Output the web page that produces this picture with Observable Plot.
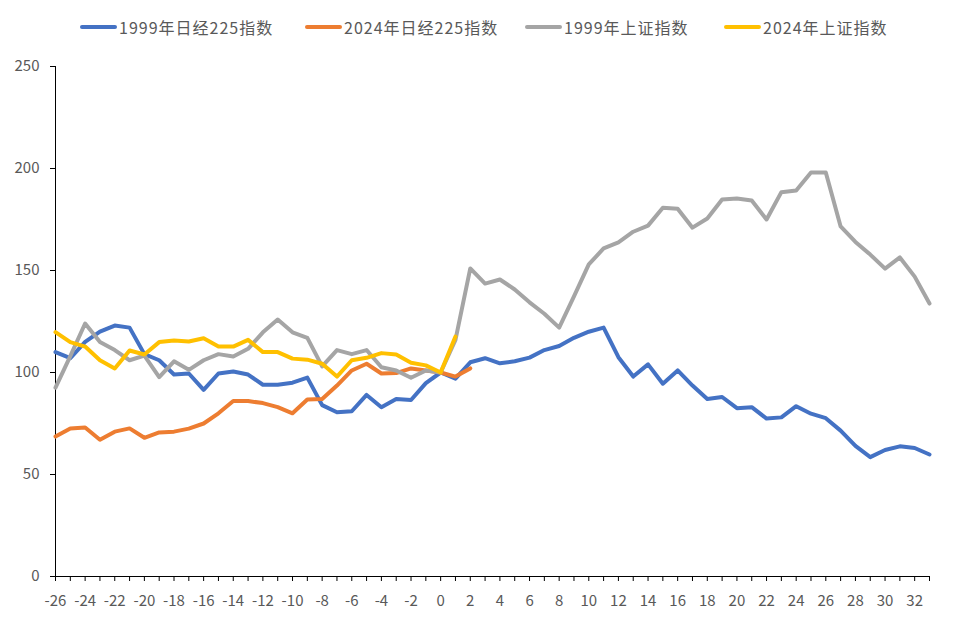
<!DOCTYPE html>
<html><head><meta charset="utf-8">
<script src="https://cdn.jsdelivr.net/npm/d3@7"></script>
<script src="https://cdn.jsdelivr.net/npm/@observablehq/plot@0.6"></script>
<style>
body{margin:0;background:#fff;font-family:"Noto Sans CJK SC","Noto Sans",sans-serif}
#wrap{position:relative;width:960px;height:621px}
#legend{position:relative;height:50px;width:960px}
.item{position:absolute;top:17px;height:20px;line-height:20px;display:flex;align-items:center;font-size:16px;color:#595959;white-space:nowrap}
.item .t{letter-spacing:1px}
.sw{width:37px;height:4px;border-radius:2px;margin-right:2px}
</style>
</head><body>
<div id="wrap"><div id="legend"></div><div id="chart"></div></div>
<script>
const periods = [-26,-25,-24,-23,-22,-21,-20,-19,-18,-17,-16,-15,-14,-13,-12,-11,-10,-9,-8,-7,-6,-5,-4,-3,-2,-1,0,1,2,3,4,5,6,7,8,9,10,11,12,13,14,15,16,17,18,19,20,21,22,23,24,25,26,27,28,29,30,31,32,33];
const xLabels = [-26,-24,-22,-20,-18,-16,-14,-12,-10,-8,-6,-4,-2,0,2,4,6,8,10,12,14,16,18,20,22,24,26,28,30,32];
const yTicks = [0,50,100,150,200,250];
const seriesNames = ["1999年日经225指数","2024年日经225指数","1999年上证指数","2024年上证指数"];
const seriesColors = ["#4472C4","#ED7D31","#A5A5A5","#FFC000"];
const nikkei1999 = [110,107,115,120,123,122,109,106,99,99.5,91.5,99.5,100.5,99,94,94,95,97.5,84,80.5,81,89,83,87,86.5,94.8,100,97,105,107,104.5,105.5,107.3,111,113,117,120,122,107.5,98,104,94.5,101,93.6,87,88,82.5,83,77.4,78,83.5,79.8,77.6,71.5,64,58.5,62,63.8,63,59.8];
const nikkei2024 = [68.6,72.5,73,67,71,72.6,68,70.6,71,72.5,75,80,86,86,85,83,80,86.8,87,93.6,101,104.3,99.5,99.7,102,101,100,98,102];
const sse1999 = [92.6,108,124,115,111,106,108.3,97.7,105.5,101.3,106,109,107.8,111.6,119.7,126,119.7,117,103,111,109,111,102.6,101,97.4,101,100,116,151,143.6,145.6,140.7,134.4,128.8,122,137.3,153,160.8,163.8,169,172,180.8,180.3,171,175.5,184.8,185.3,184.3,175,188.4,189.2,198,198,171.6,164,157.8,150.9,156.4,147,133.8];
const sse2024 = [119.8,114.9,112.7,106,102,110.8,108.8,114.9,115.7,115.2,116.8,112.7,112.7,116,110,110,106.8,106.3,104.3,98,106,107.2,109.5,108.8,104.8,103.5,100,117.6];

const allSeries = [nikkei1999, nikkei2024, sse1999, sse2024];
const rows = (vals) => vals.map((v, i) => ({x: periods[i], y: v}));

// legend
const legendPos = [80, 305, 525, 724];
const legend = document.getElementById("legend");
seriesNames.forEach((n, i) => {
  const it = document.createElement("div");
  it.className = "item";
  it.style.left = legendPos[i] + "px";
  it.innerHTML = `<span class="sw" style="background:${seriesColors[i]}"></span><span class="t">${n}</span>`;
  legend.appendChild(it);
});

const font = '"Noto Sans CJK SC","Noto Sans",sans-serif';
const chart = Plot.plot({
  width: 960,
  height: 571,
  marginTop: 16,
  marginBottom: 45,
  marginLeft: 55,
  marginRight: 31,
  style: {fontFamily: font, fontSize: "15px", background: "#fff"},
  x: {domain: [-26, 33]},
  y: {domain: [0, 250]},
  marks: [
    Plot.axisY({ticks: yTicks, tickSize: 5, tickPadding: 11, tickFormat: d => String(d), label: null, stroke: "#000", fill: "#595959", fontSize: 15}),
    Plot.axisX({ticks: periods, tickSize: 5, tickFormat: () => "", label: null, stroke: "#000"}),
    Plot.axisX({ticks: xLabels, tickSize: 0, tickPadding: 19, tickFormat: d => String(d), label: null, fill: "#595959", fontSize: 15}),
    Plot.ruleY([0], {stroke: "#000", strokeWidth: 1}),
    Plot.ruleX([-26], {stroke: "#000", strokeWidth: 1}),
    ...allSeries.map((s, i) => Plot.line(rows(s), {x: "x", y: "y", stroke: seriesColors[i], strokeWidth: 4, strokeLinejoin: "round", strokeLinecap: "round"}))
  ]
});
document.getElementById("chart").appendChild(chart);
</script>
</body></html>
